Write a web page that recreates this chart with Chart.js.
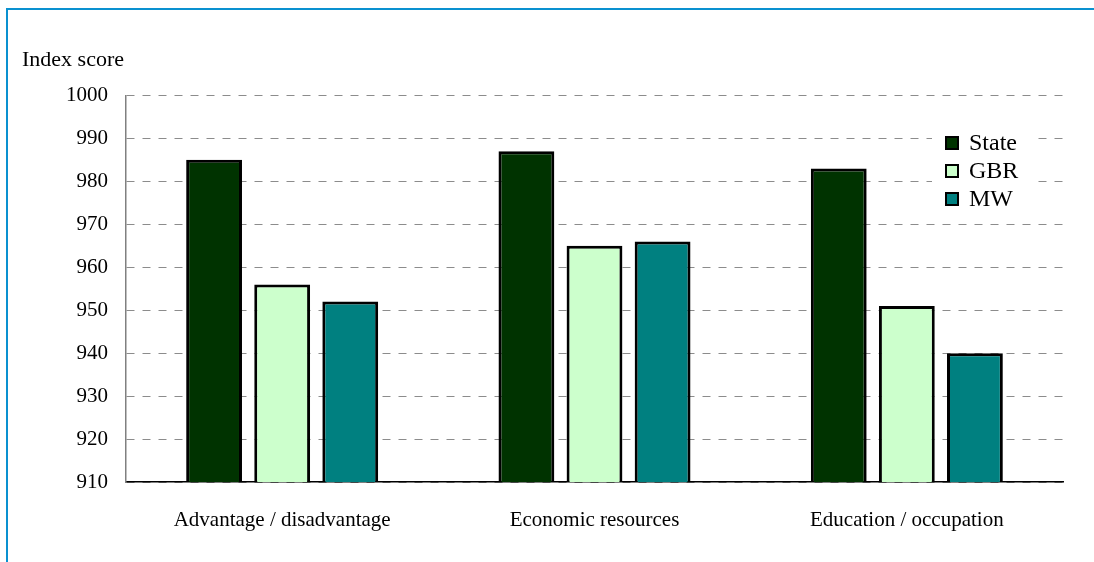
<!DOCTYPE html>
<html>
<head>
<meta charset="utf-8">
<title>Index score</title>
<script src="https://cdn.jsdelivr.net/npm/chart.js@4/dist/chart.umd.min.js"></script>
<style>
    html, body { margin: 0; padding: 0; background: #ffffff; }
    #wrap { position: relative; width: 1094px; height: 562px; overflow: hidden; }
    #frame {
        position: absolute; left: 6px; top: 8px; width: 1200px; height: 700px;
        border-left: 2px solid #0a91d0; border-top: 2px solid #0a91d0;
    }
    #chart { position: absolute; left: 0; top: 0; }
</style>
</head>
<body>
<div id="wrap">
    <div id="frame"></div>
    <canvas id="chart" width="1094" height="562"></canvas>
</div>
<script>
// Categories and series
const categories = ['Advantage / disadvantage', 'Economic resources', 'Education / occupation'];
const stateScores = [985, 987, 983];
const gbrScores = [956, 965, 951];
const mwScores = [952, 966, 940];

const seriesNames = ['State', 'GBR', 'MW'];
const seriesColors = ['#003300', '#ccffcc', '#008080'];

const yMin = 910;
const yMax = 1000;
const yStep = 10;

const serif = "'Liberation Serif', 'Times New Roman', serif";

// Legend box drawn inside the plot, top right
const insideLegend = {
    id: 'insideLegend',
    afterDraw(chart) {
        const ctx = chart.ctx;
        const x = 932, y = 128;
        ctx.save();
        ctx.fillStyle = '#ffffff';
        ctx.fillRect(x, y, 101, 87);
        ctx.font = '24px ' + serif;
        ctx.textBaseline = 'middle';
        chart.data.datasets.forEach((ds, i) => {
            const cy = 143 + i * 28;
            ctx.fillStyle = ds.backgroundColor;
            ctx.fillRect(x + 14, cy - 6, 12, 12);
            ctx.strokeStyle = '#000000';
            ctx.lineWidth = 2;
            ctx.strokeRect(x + 14, cy - 6, 12, 12);
            ctx.fillStyle = '#000000';
            ctx.fillText(ds.label, x + 37, cy + 1);
        });
        ctx.restore();
    }
};

const ctx = document.getElementById('chart').getContext('2d');
const chart = new Chart(ctx, {
    type: 'bar',
    data: {
        labels: categories,
        datasets: [stateScores, gbrScores, mwScores].map((values, i) => ({
            label: seriesNames[i],
            data: values,
            backgroundColor: seriesColors[i],
            borderColor: '#000000',
            borderWidth: 3,
            borderSkipped: 'bottom',
            categoryPercentage: 0.654,
            barPercentage: 0.82
        }))
    },
    options: {
        responsive: false,
        animation: false,
        layout: {
            padding: { left: 22, right: 31, top: 0, bottom: 0 }
        },
        plugins: {
            legend: { display: false },
            tooltip: { enabled: false },
            title: {
                display: true,
                text: 'Index score',
                align: 'start',
                color: '#000000',
                font: { family: serif, size: 22, weight: 'normal' },
                padding: { top: 47, bottom: 22 }
            }
        },
        scales: {
            x: {
                grid: { display: false },
                border: { display: true, color: '#000000', width: 1.5 },
                ticks: {
                    color: '#000000',
                    font: { family: serif, size: 21 },
                    padding: 18,
                    maxRotation: 0
                },
                afterFit(scale) { scale.height = 80; }
            },
            y: {
                min: yMin,
                max: yMax,
                grid: {
                    color: '#8c8c8c',
                    lineWidth: 1,
                    drawTicks: false
                },
                border: { display: true, color: '#808080', width: 1.5, dash: [8, 8] },
                ticks: {
                    stepSize: yStep,
                    color: '#000000',
                    font: { family: serif, size: 21 },
                    padding: 18,
                    callback: value => String(value)
                },
                afterFit(scale) { scale.width = 104; }
            }
        }
    },
    plugins: [insideLegend]
});
</script>
</body>
</html>
